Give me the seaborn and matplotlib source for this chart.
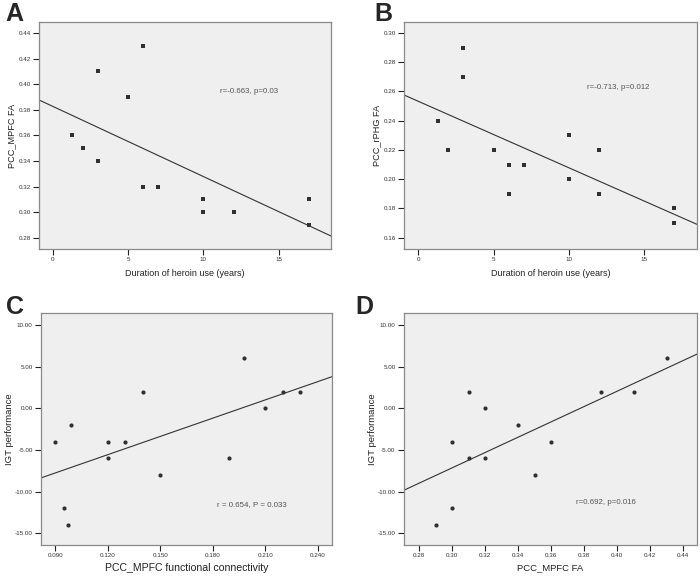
import matplotlib
matplotlib.use("Agg")
import matplotlib.pyplot as plt
import seaborn as sns
import numpy as np
import pandas as pd

# ---- data ----
dur_a = [1.3, 2, 3, 3, 5, 6, 6, 7, 10, 10, 12, 17, 17]
mpfc_fa_a = [0.36, 0.35, 0.34, 0.41, 0.39, 0.43, 0.32, 0.32, 0.31, 0.30, 0.30, 0.31, 0.29]

dur_b = [1.3, 2, 3, 3, 5, 6, 6, 7, 10, 10, 12, 12, 17, 17]
rphg_fa_b = [0.24, 0.22, 0.29, 0.27, 0.22, 0.21, 0.19, 0.21, 0.23, 0.20, 0.22, 0.19, 0.18, 0.17]

fc_c = [0.090, 0.095, 0.097, 0.099, 0.120, 0.120, 0.130, 0.140, 0.150, 0.1895, 0.198, 0.210, 0.220, 0.230]
igt_c = [-4, -12, -14, -2, -4, -6, -4, 2, -8, -6, 6, 0, 2, 2]

fa_d = [0.29, 0.30, 0.30, 0.31, 0.31, 0.32, 0.32, 0.34, 0.35, 0.36, 0.39, 0.41, 0.43]
igt_d = [-14, -12, -4, 2, -6, 0, -6, -2, -8, -4, 2, 2, 6]

ticks_a_x = [0, 5, 10, 15]
ticks_a_y = [0.28, 0.30, 0.32, 0.34, 0.36, 0.38, 0.40, 0.42, 0.44]
ticks_b_y = [0.16, 0.18, 0.20, 0.22, 0.24, 0.26, 0.28, 0.30]
ticks_c_x = [0.090, 0.120, 0.150, 0.180, 0.210, 0.240]
ticks_igt = [-15, -10, -5, 0, 5, 10]
ticks_d_x = [0.28, 0.30, 0.32, 0.34, 0.36, 0.38, 0.40, 0.42, 0.44]

sns.set_style("white")
plt.rcParams['font.family'] = ['Liberation Sans', 'DejaVu Sans']

fig = plt.figure(figsize=(7.0, 5.79), dpi=100)
bg = "#efefef"
frame = "#8a8a8a"

panels = [
    dict(rect=[0.0557, 0.570, 0.417, 0.392], x=dur_a, y=mpfc_fa_a, marker='s',
         xlim=(-0.9, 18.45), ylim=(0.2712, 0.4486), xt=ticks_a_x, yt=ticks_a_y,
         xfmt="{:.0f}", yfmt="{:.2f}", xlabel="Duration of heroin use (years)",
         ylabel="PCC_MPFC FA", txt="r=-0.663, p=0.03", tx=(11.09, 0.3939),
         letter="A", lpos=(0.008, 0.997), xls=6.5, yls=6.6,
         xlc=(0.5, -0.106), ylc=(-0.0925, 0.5)),
    dict(rect=[0.577, 0.570, 0.4186, 0.392], x=dur_b, y=rphg_fa_b, marker='s',
         xlim=(-0.95, 18.5), ylim=(0.1523, 0.3075), xt=ticks_a_x, yt=ticks_b_y,
         xfmt="{:.0f}", yfmt="{:.2f}", xlabel="Duration of heroin use (years)",
         ylabel="PCC_rPHG FA", txt="r=-0.713, p=0.012", tx=(11.2, 0.263),
         letter="B", lpos=(0.535, 0.997), xls=6.5, yls=6.6,
         xlc=(0.5, -0.106), ylc=(-0.092, 0.5)),
    dict(rect=[0.0586, 0.0587, 0.4157, 0.4007], x=fc_c, y=igt_c, marker='o',
         xlim=(0.0818, 0.2482), ylim=(-16.4, 11.44), xt=ticks_c_x, yt=ticks_igt,
         xfmt="{:.3f}", yfmt="{:.2f}", xlabel="PCC_MPFC functional connectivity",
         ylabel="IGT performance", txt="r = 0.654, P = 0.033", tx=(0.1825, -11.6),
         letter="C", lpos=(0.008, 0.49), xls=7.6, yls=6.8,
         xlc=(0.5, -0.099), ylc=(-0.107, 0.5)),
    dict(rect=[0.577, 0.0587, 0.4186, 0.4007], x=fa_d, y=igt_d, marker='o',
         xlim=(0.2707, 0.4483), ylim=(-16.4, 11.44), xt=ticks_d_x, yt=ticks_igt,
         xfmt="{:.2f}", yfmt="{:.2f}", xlabel="PCC_MPFC FA",
         ylabel="IGT performance", txt="r=0.692, p=0.016", tx=(0.375, -11.3),
         letter="D", lpos=(0.507, 0.49), xls=6.8, yls=6.8,
         xlc=(0.5, -0.099), ylc=(-0.107, 0.5)),
]

for p in panels:
    ax = fig.add_axes(p["rect"])
    ax.set_facecolor(bg)
    ax.set_xlim(*p["xlim"])
    ax.set_ylim(*p["ylim"])
    df = pd.DataFrame({"x": p["x"], "y": p["y"]})
    sns.regplot(data=df, x="x", y="y", ax=ax, ci=None, truncate=False,
                marker=p["marker"],
                scatter_kws=dict(color="black", s=9, linewidths=0),
                line_kws=dict(color="#333333", lw=0.8))
    ax.set_xlim(*p["xlim"])
    ax.set_ylim(*p["ylim"])
    ax.set_xticks(p["xt"])
    ax.set_xticklabels([p["xfmt"].format(v) for v in p["xt"]])
    ax.set_yticks(p["yt"])
    ax.set_yticklabels([p["yfmt"].format(v) for v in p["yt"]])
    ax.tick_params(axis="both", direction="out", length=4, width=0.8,
                   color="#222222", labelsize=4.5, labelcolor="#333333", pad=2,
                   bottom=True, left=True)
    for s in ax.spines.values():
        s.set_color(frame)
        s.set_linewidth(0.9)
    ax.set_xlabel(p["xlabel"], fontsize=p["xls"], color="#222222")
    ax.set_ylabel(p["ylabel"], fontsize=p["yls"], color="#222222")
    ax.xaxis.set_label_coords(*p["xlc"])
    ax.yaxis.set_label_coords(*p["ylc"])
    ax.xaxis.label.set_va("center")
    ax.yaxis.label.set_va("center")
    ax.text(p["tx"][0], p["tx"][1], p["txt"], fontsize=5.7, color="#555555",
            va="center", ha="left")
    fig.text(p["lpos"][0], p["lpos"][1], p["letter"], fontsize=18,
             fontweight="bold", va="top", ha="left")

fig.savefig("out.png", dpi=100, facecolor="white")
